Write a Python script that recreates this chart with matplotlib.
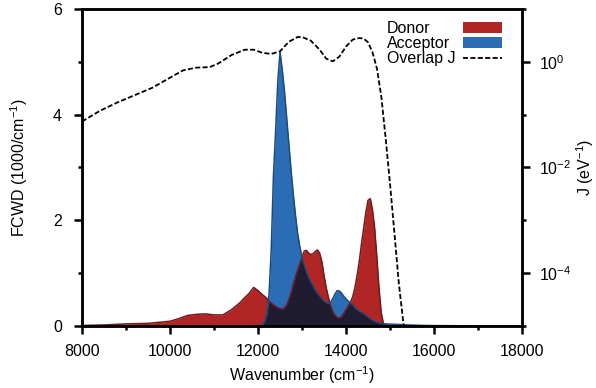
import numpy as np
import matplotlib
matplotlib.use('Agg')
import matplotlib.pyplot as plt
from matplotlib.patches import Patch
from matplotlib.ticker import FixedLocator, NullFormatter

plt.rcParams['font.family'] = ['Liberation Sans', 'DejaVu Sans']
plt.rcParams['mathtext.default'] = 'regular'
plt.rcParams['font.size'] = 11.5

# wavenumber grid (cm-1) for the two spectra
wn = [8000, 8500, 9000, 9500, 10000, 10200, 10400, 10600, 10800, 11000,
      11200, 11400, 11600, 11700, 11800, 11900, 12000, 12100, 12150, 12200,
      12250, 12300, 12350, 12400, 12450, 12500, 12550, 12600, 12650, 12700,
      12750, 12800, 12850, 12900, 12950, 13000, 13050, 13100, 13150, 13200,
      13250, 13300, 13350, 13400, 13450, 13500, 13550, 13600, 13650, 13700,
      13750, 13800, 13850, 13900, 13950, 14000, 14050, 14100, 14150, 14200,
      14250, 14300, 14350, 14400, 14450, 14500, 14550, 14600, 14650, 14700,
      14750, 14800, 14850, 14900, 15000, 15200, 15400, 15600, 15800, 16000,
      16500, 17000, 18000]

donor = [0.01, 0.02, 0.04, 0.05, 0.09, 0.14, 0.20, 0.22, 0.23, 0.21,
         0.21, 0.31, 0.45, 0.54, 0.62, 0.73, 0.67, 0.59, 0.56, 0.52,
         0.47, 0.43, 0.40, 0.37, 0.34, 0.33, 0.32, 0.34, 0.40, 0.50,
         0.63, 0.78, 0.93, 1.06, 1.18, 1.30, 1.42, 1.43, 1.38, 1.35,
         1.37, 1.41, 1.44, 1.38, 1.22, 0.95, 0.72, 0.54, 0.38, 0.27,
         0.20, 0.16, 0.15, 0.18, 0.24, 0.31, 0.38, 0.45, 0.55, 0.72,
         0.95, 1.22, 1.55, 1.85, 2.15, 2.38, 2.41, 2.20, 1.85, 1.30,
         0.70, 0.25, 0.04, 0.02, 0.01, 0.0, 0.0, 0.0, 0.0, 0.0,
         0.0, 0.0, 0.0]

acceptor = [0.0, 0.0, 0.0, 0.0, 0.0, 0.0, 0.0, 0.0, 0.0, 0.0,
            0.0, 0.0, 0.0, 0.0, 0.0, 0.0, 0.01, 0.02, 0.08, 0.22,
            0.60, 1.45, 2.85, 3.70, 4.65, 5.19, 4.85, 4.45, 3.95, 3.45,
            2.95, 2.50, 2.10, 1.75, 1.50, 1.30, 1.15, 1.02, 0.92, 0.84,
            0.76, 0.68, 0.62, 0.57, 0.52, 0.47, 0.44, 0.43, 0.45, 0.52,
            0.61, 0.67, 0.66, 0.62, 0.56, 0.51, 0.47, 0.44, 0.40, 0.35,
            0.31, 0.28, 0.26, 0.23, 0.20, 0.17, 0.14, 0.11, 0.09, 0.07,
            0.06, 0.05, 0.045, 0.04, 0.035, 0.03, 0.02, 0.015, 0.01, 0.008,
            0.005, 0.003, 0.002]

# overlap integral J, read as log10(J / eV^-1)
wn_j = [8000, 8400, 8800, 9200, 9600, 10000, 10300, 10600, 10900, 11100,
        11400, 11700, 11900, 12100, 12300, 12500, 12700, 12900, 13000, 13200,
        13400, 13550, 13700, 13850, 14000, 14150, 14300, 14400, 14500, 14600,
        14700, 14800, 14900, 15000, 15100, 15200, 15310, 15400]
log_j = [-1.13, -0.93, -0.77, -0.63, -0.49, -0.30, -0.16, -0.11, -0.10, -0.03,
         0.13, 0.23, 0.23, 0.17, 0.15, 0.20, 0.38, 0.47, 0.47, 0.40,
         0.23, 0.06, 0.01, 0.10, 0.29, 0.42, 0.45, 0.44, 0.37, 0.18,
         -0.12, -0.65, -1.45, -2.32, -3.25, -4.20, -5.00, -5.70]

red, red_edge = '#b22525', '#701a1c'
blue, blue_edge = '#2a6db5', '#1d4a7e'
dark = '#1e1c2e'

wn = np.array(wn)
donor = np.array(donor)
acceptor = np.array(acceptor)
J = 10.0 ** np.array(log_j)

fig, ax = plt.subplots(figsize=(5.96, 3.88), dpi=100)
fig.subplots_adjust(left=0.1376, right=0.876, bottom=0.1598, top=0.9768)

ax.fill_between(wn, 0, donor, color=red, lw=0)
ax.fill_between(wn, 0, acceptor, color=blue, lw=0)
ax.fill_between(wn, 0, np.minimum(donor, acceptor), color=dark, lw=0)
ax.plot(wn, donor, color=red_edge, lw=1.1)
ax.plot(wn, acceptor, color=blue_edge, lw=1.1)

ax.set_xlim(8000, 18000)
ax.set_ylim(0, 6)
ax.set_xticks([8000, 10000, 12000, 14000, 16000, 18000])
ax.set_xticks([9000, 11000, 13000, 15000, 17000], minor=True)
ax.set_yticks([0, 2, 4, 6])
ax.set_yticks([1, 3, 5], minor=True)
ax.set_xlabel('Wavenumber (cm$^{-1}$)')
ax.set_ylabel('FCWD (1000/cm$^{-1}$)', labelpad=16.5)

ax2 = ax.twinx()
ax2.plot(wn_j, J, color='black', lw=1.3, ls=(0, (2.8, 1.3)))
ax2.set_yscale('log')
ax2.set_ylim(1e-5, 1e1)
ax2.yaxis.set_major_locator(FixedLocator([1e-4, 1e-2, 1e0]))
ax2.yaxis.set_minor_locator(FixedLocator([1e-5, 1e-3, 1e-1, 1e1]))
ax2.yaxis.set_minor_formatter(NullFormatter())
ax2.set_yticklabels(['10$^{-4}$', '10$^{-2}$', '10$^{0}$'])
ax2.set_ylabel('J (eV$^{-1}$)', labelpad=2.5)

for a in (ax, ax2):
    for s in a.spines.values():
        s.set_linewidth(1.8)
ax.tick_params(which='both', direction='out', width=1.8, top=False, pad=7)
ax.tick_params(axis='y', which='both', pad=8.5)
ax.tick_params(which='major', length=6)
ax.tick_params(which='minor', length=3)
ax2.tick_params(which='both', direction='out', width=1.8, pad=6)
ax2.tick_params(which='major', length=6)
ax2.tick_params(which='minor', length=3)

handles = [Patch(facecolor=red, edgecolor='none'),
           Patch(facecolor=blue, edgecolor='none'),
           ax2.lines[0]]
labels = ['Donor', 'Acceptor', 'Overlap J']
leg = ax2.legend(handles, labels, loc='upper right', bbox_to_anchor=(0.986, 1.006),
                 frameon=False, markerfirst=False, handlelength=2.4,
                 handletextpad=0.5, labelspacing=0.0)

# left-align the legend texts while keeping the keys on the right
fig.canvas.draw()
r = fig.canvas.get_renderer()
widths = [t.get_window_extent(r).width for t in leg.get_texts()]
for col in leg._legend_handle_box.get_children():
    for item, w in zip(col.get_children(), widths):
        item.sep += (max(widths) - w) * 72 / fig.dpi

fig.savefig('out.png', dpi=100)
